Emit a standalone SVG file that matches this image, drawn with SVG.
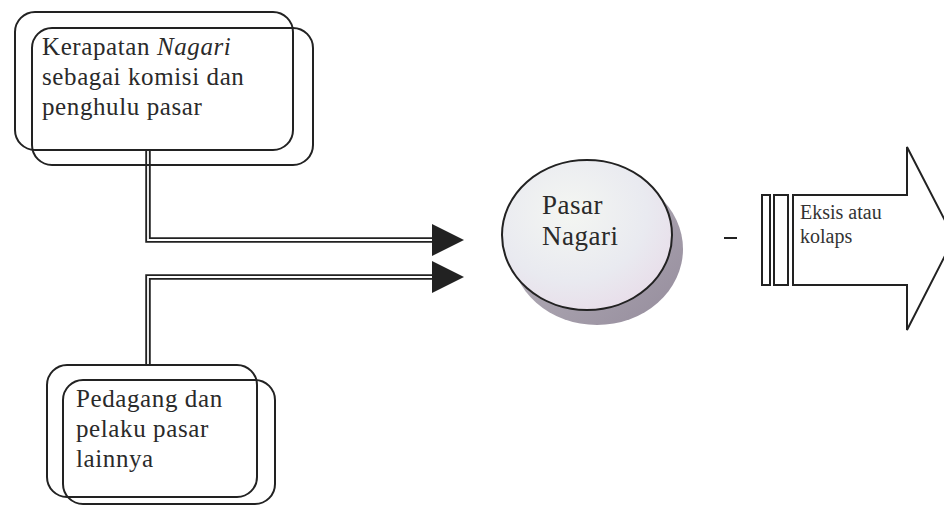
<svg xmlns="http://www.w3.org/2000/svg" width="944" height="513" viewBox="0 0 944 513">
<defs>
<style>
.box{fill:none;stroke:#222;stroke-width:2}
.t{font-family:"Liberation Serif","Times New Roman",serif;font-size:25px;letter-spacing:0.6px;fill:#2a2a2a}
.tc{font-family:"Liberation Serif","Times New Roman",serif;font-size:27px;letter-spacing:0.5px;fill:#2a2a2a}
.ts{font-family:"Liberation Serif","Times New Roman",serif;font-size:20px;fill:#333}
.dl-o{fill:none;stroke:#222;stroke-width:5.5}
.dl-i{fill:none;stroke:#fff;stroke-width:1.8}
.head{fill:#222}
.out{fill:#fff;stroke:#222;stroke-width:2}
</style>
<radialGradient id="gface" cx="0.4" cy="0.35" r="0.75">
<stop offset="0" stop-color="#f4f6f2"/>
<stop offset="0.6" stop-color="#e9eaf0"/>
<stop offset="1" stop-color="#e8dbe8"/>
</radialGradient>
<linearGradient id="gshadow" x1="0" y1="0" x2="1" y2="1">
<stop offset="0" stop-color="#bcb8c0"/>
<stop offset="1" stop-color="#958c9c"/>
</linearGradient>
</defs>
<rect width="944" height="513" fill="#fff"/>
<g id="connectors">
<path class="dl-o" d="M148,150 V240 H435"/>
<path class="dl-i" d="M148,150 V240 H435"/>
<path class="dl-o" d="M148,365 V277 H435"/>
<path class="dl-i" d="M148,365 V277 H435"/>
<polygon class="head" points="432,224 464,240 432,256"/>
<polygon class="head" points="432,261 464,277 432,293"/>
<line x1="724" y1="238" x2="737" y2="238" stroke="#222" stroke-width="2"/>
</g>
<g id="kerapatan">
<rect class="box" x="15" y="12" width="278" height="138" rx="20"/>
<rect class="box" x="32" y="28" width="281" height="137" rx="20"/>
<text class="t" x="42" y="55">Kerapatan <tspan font-style="italic">Nagari</tspan></text>
<text class="t" x="42" y="85">sebagai komisi dan</text>
<text class="t" x="42" y="115">penghulu pasar</text>
</g>
<g id="pedagang">
<rect class="box" x="47" y="365" width="210" height="132" rx="20"/>
<rect class="box" x="63" y="380" width="212" height="124" rx="20"/>
<text class="t" x="76" y="407">Pedagang dan</text>
<text class="t" x="76" y="437">pelaku pasar</text>
<text class="t" x="76" y="467">lainnya</text>
</g>
<g id="pasar-nagari">
<ellipse cx="597" cy="249" rx="86" ry="76" fill="url(#gshadow)"/>
<ellipse cx="587" cy="235" rx="85" ry="75" fill="url(#gface)" stroke="#222" stroke-width="2"/>
<text class="tc" x="542" y="214">Pasar</text>
<text class="tc" x="542" y="245">Nagari</text>
</g>
<g id="eksis">
<rect class="out" x="762" y="195" width="8" height="90"/>
<rect class="out" x="774" y="195" width="14" height="90"/>
<polygon class="out" points="793,195 907,195 907,147 954,238 907,330 907,285 793,285"/>
<text class="ts" x="800" y="219">Eksis atau</text>
<text class="ts" x="800" y="243">kolaps</text>
</g>
</svg>
